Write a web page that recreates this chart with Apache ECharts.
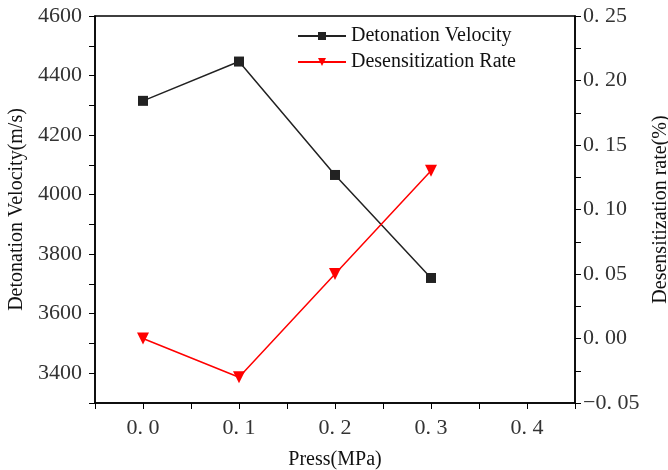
<!DOCTYPE html>
<html>
<head>
<meta charset="utf-8">
<script src="https://cdn.jsdelivr.net/npm/echarts@6/dist/echarts.min.js"></script>
<style>
  html, body { margin: 0; padding: 0; background: #fff; }
  #chart { width: 668px; height: 470px; }
</style>
</head>
<body>
<div id="chart"></div>
<script>
const press = [0.0, 0.1, 0.2, 0.3]
const velocity = [4315, 4447, 4066, 3720]
const desensRate = [0.0, -0.03, 0.05, 0.13]

const serif = '"Liberation Serif", "DejaVu Serif", serif'

// "0.25" -> "0. 25", like the original figure
const spacedNum = (v, digits) => {
  const s = Math.abs(v).toFixed(digits).replace('.', '. ')
  return v < -1e-9 ? '\u22120' + s.slice(1) : s
}

const myChart = echarts.init(document.getElementById('chart'))
myChart.setOption({
  animation: false,
  legend: {
    left: 297,
    top: 26,
    padding: 0,
    orient: 'vertical',
    itemWidth: 48,
    itemHeight: 10,
    itemGap: 6,
    textStyle: { fontFamily: serif, fontSize: 20, color: '#111' },
    data: ['Detonation Velocity', 'Desensitization Rate']
  },
  grid: {
    left: 95,
    right: 93,
    top: 16,
    bottom: 67,
    outerBoundsMode: 'none',
    show: true,
    borderColor: '#000',
    borderWidth: 1.5
  },
  xAxis: {
    type: 'value',
    min: -0.05,
    max: 0.45,
    interval: 0.05,
    name: 'Press(MPa)',
    nameLocation: 'middle',
    nameGap: 47,
    nameTextStyle: { fontFamily: serif, fontSize: 20, color: '#111' },
    axisLine: { show: true, onZero: false, lineStyle: { color: '#000', width: 1.5 } },
    axisTick: { show: true, length: 6, lineStyle: { color: '#000' } },
    splitLine: { show: false },
    axisLabel: {
      fontFamily: serif,
      fontSize: 22,
      color: '#333',
      margin: 14,
      formatter: v => Math.round(v * 100) % 10 === 0 && v > -0.01 && v < 0.41 ? spacedNum(v, 1) : ''
    }
  },
  yAxis: [{
    type: 'value',
    min: 3300,
    max: 4600,
    interval: 100,
    name: 'Detonation Velocity(m/s)',
    nameLocation: 'middle',
    nameGap: 68,
    nameTextStyle: { fontFamily: serif, fontSize: 20, color: '#111' },
    axisLine: { show: true, onZero: false, lineStyle: { color: '#000', width: 1.5 } },
    axisTick: { show: true, length: 6, lineStyle: { color: '#000' } },
    splitLine: { show: false },
    axisLabel: {
      fontFamily: serif,
      fontSize: 22,
      color: '#333',
      margin: 13,
      formatter: v => v % 200 === 0 ? String(v) : ''
    }
  }, {
    type: 'value',
    position: 'right',
    min: -0.05,
    max: 0.25,
    interval: 0.05,
    name: 'Desensitization rate(%)',
    nameLocation: 'middle',
    nameGap: 73,
    nameRotate: 90,
    nameTextStyle: { fontFamily: serif, fontSize: 20, color: '#111' },
    axisLine: { show: true, onZero: false, lineStyle: { color: '#000', width: 1.5 } },
    axisTick: { show: true, length: 6, lineStyle: { color: '#000' } },
    minorTick: { show: true, splitNumber: 2, length: 6, lineStyle: { color: '#000' } },
    splitLine: { show: false },
    axisLabel: {
      fontFamily: serif,
      fontSize: 22,
      color: '#333',
      margin: 8,
      formatter: v => spacedNum(v, 2)
    }
  }],
  series: [{
    name: 'Detonation Velocity',
    type: 'line',
    yAxisIndex: 0,
    data: press.map((p, i) => [p, velocity[i]]),
    symbol: 'rect',
    symbolSize: 10,
    lineStyle: { color: '#222', width: 1.5 },
    itemStyle: { color: '#222' }
  }, {
    name: 'Desensitization Rate',
    type: 'line',
    yAxisIndex: 1,
    data: press.map((p, i) => [p, desensRate[i]]),
    symbol: 'triangle',
    symbolRotate: 180,
    symbolSize: 12,
    lineStyle: { color: '#ff0000', width: 1.5 },
    itemStyle: { color: '#ff0000' }
  }]
})
</script>
</body>
</html>
